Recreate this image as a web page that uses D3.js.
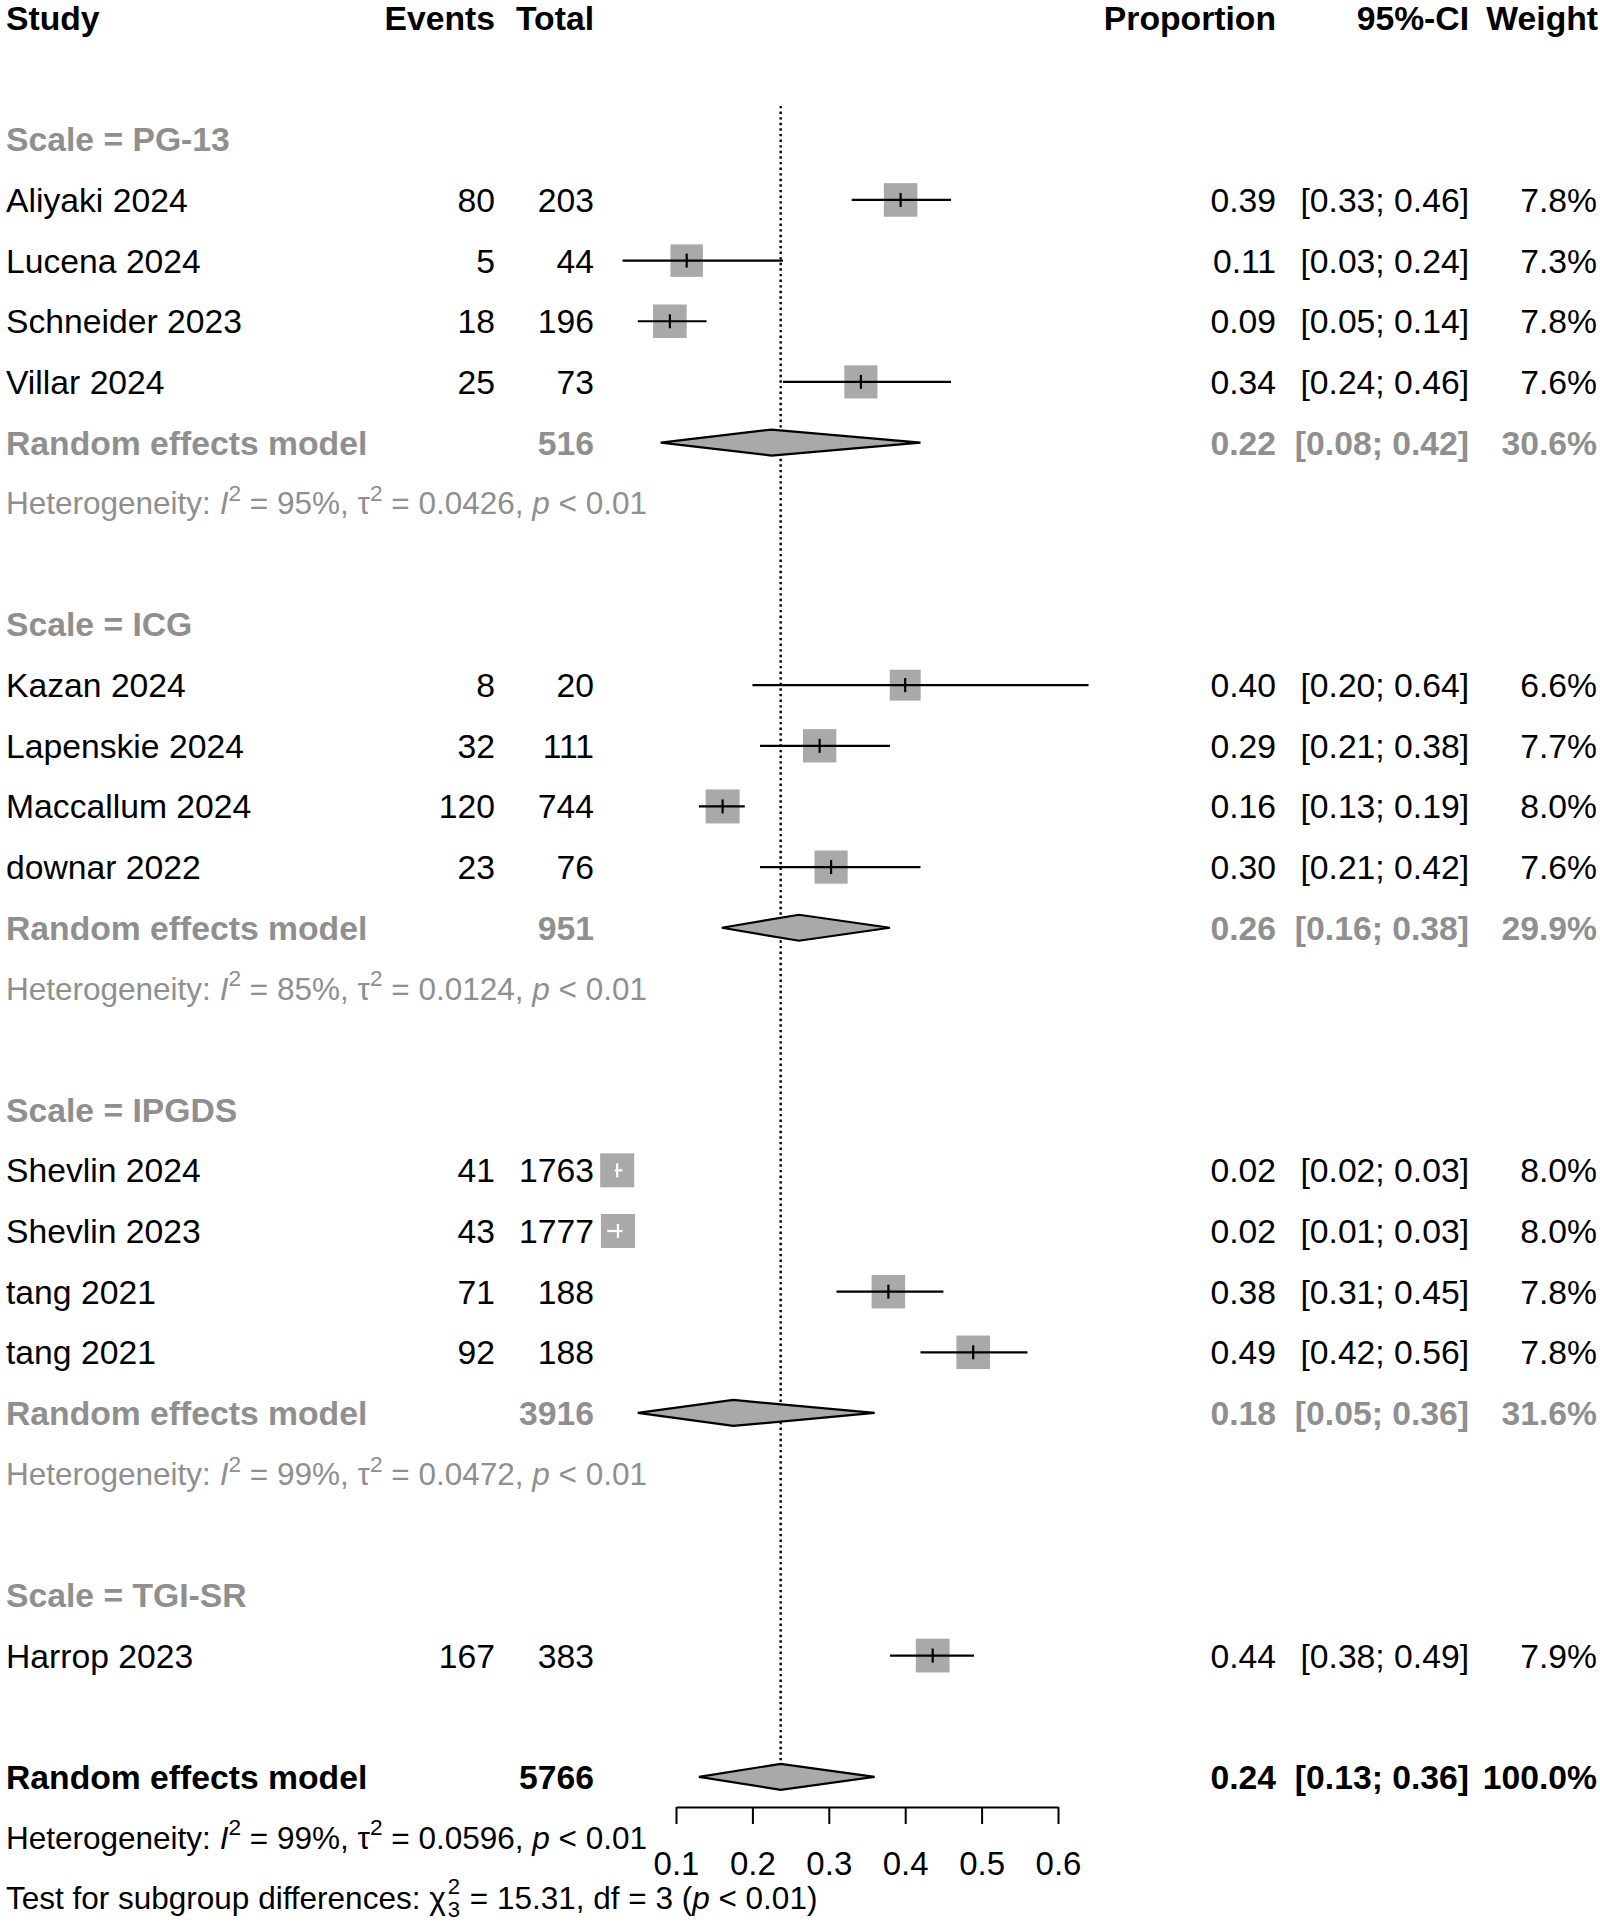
<!DOCTYPE html>
<html>
<head>
<meta charset="utf-8">
<script src="https://cdn.jsdelivr.net/npm/d3@7"></script>
<style>
  html, body { margin: 0; padding: 0; background: #ffffff; }
  svg text { font-family: "Liberation Sans", Arial, Helvetica, sans-serif; }
</style>
</head>
<body>
<svg id="chart" width="1600" height="1924"></svg>
<script>
// ---------------- DATA ----------------
const groupNames   = ["PG-13", "ICG", "IPGDS", "TGI-SR"];
const studyNames   = ["Aliyaki 2024", "Lucena 2024", "Schneider 2023", "Villar 2024",
                      "Kazan 2024", "Lapenskie 2024", "Maccallum 2024", "downar 2022",
                      "Shevlin 2024", "Shevlin 2023", "tang 2021", "tang 2021",
                      "Harrop 2023"];
const studyGroup   = ["PG-13", "PG-13", "PG-13", "PG-13",
                      "ICG", "ICG", "ICG", "ICG",
                      "IPGDS", "IPGDS", "IPGDS", "IPGDS",
                      "TGI-SR"];
const studyEvents  = [80, 5, 18, 25, 8, 32, 120, 23, 41, 43, 71, 92, 167];
const studyTotals  = [203, 44, 196, 73, 20, 111, 744, 76, 1763, 1777, 188, 188, 383];
const studyProp    = [0.394, 0.114, 0.092, 0.342, 0.400, 0.288, 0.161, 0.303, 0.023, 0.024, 0.378, 0.489, 0.436];
const studyLower   = [0.33, 0.03, 0.05, 0.24, 0.20, 0.21, 0.13, 0.21, 0.02, 0.01, 0.31, 0.42, 0.38];
const studyUpper   = [0.46, 0.24, 0.14, 0.46, 0.64, 0.38, 0.19, 0.42, 0.03, 0.03, 0.45, 0.56, 0.49];
const studyWeight  = [7.8, 7.3, 7.8, 7.6, 6.6, 7.7, 8.0, 7.6, 8.0, 8.0, 7.8, 7.8, 7.9];

// subgroup random effects (TGI-SR has a single study: no pooled row)
const groupTotals  = [516, 951, 3916];
const groupProp    = [0.225, 0.261, 0.175];
const groupPropTxt = ["0.22", "0.26", "0.18"];
const groupLower   = [0.08, 0.16, 0.05];
const groupUpper   = [0.42, 0.38, 0.36];
const groupWeight  = [30.6, 29.9, 31.6];
const groupI2      = ["95%", "85%", "99%"];
const groupTau2    = ["0.0426", "0.0124", "0.0472"];

// overall
const overallTotal  = 5766;
const overallProp   = 0.237;
const overallTxt    = "0.24";
const overallLower  = 0.13;
const overallUpper  = 0.36;
const overallWeight = 100.0;
const overallI2     = "99%";
const overallTau2   = "0.0596";
const subgroupChi2  = "15.31";
const subgroupDf    = 3;
const subgroupDfSub = "3";

const axisTicks = [0.1, 0.2, 0.3, 0.4, 0.5, 0.6];
const headers = ["Study", "Events", "Total", "Proportion", "95%-CI", "Weight"];

// ---------------- LAYOUT ----------------
const svg = d3.select("#chart");
const FS = 33.7;     // main text
const FSH = 31.5;    // heterogeneity / test lines
const FST = 33;      // axis tick labels
const GRAY = "#8f8f8f";
const rowY = d3.scaleLinear().domain([0, 31]).range([18, 18 + 31 * 60.65]);
const x = d3.scaleLinear().domain([0.1, 0.6]).range([676, 1058]);
const sqSide = d3.scaleSqrt().domain([0, 8]).range([0, 34]);

const col = { study: 6, events: 495, total: 594, prop: 1276, ci: 1469, weight: 1597 };
const f2 = d3.format(".2f");
const f1 = d3.format(".1f");
const ciTxt = (l, u) => "[" + f2(l) + "; " + f2(u) + "]";

// build row list
const rows = [];
let r = 2;
groupNames.forEach((g, gi) => {
  rows.push({ type: "group", row: r++, label: "Scale = " + g });
  studyNames.forEach((s, i) => {
    if (studyGroup[i] === g) rows.push({ type: "study", row: r++, i });
  });
  if (gi < groupTotals.length) {
    rows.push({ type: "sub", row: r++, gi });
    rows.push({ type: "het", row: r++, gi });
  }
  r++;
});
const overallRow = r;      // 29
const hetRow = r + 1;      // 30
const testRow = r + 2;     // 31

function txt(xp, row, s, opts = {}) {
  return svg.append("text")
    .attr("x", xp)
    .attr("y", rowY(row))
    .attr("dy", "0.355em")
    .attr("font-size", opts.size || FS)
    .attr("font-weight", opts.bold ? "bold" : "normal")
    .attr("fill", opts.color || "#000")
    .attr("text-anchor", opts.anchor || "start")
    .text(s);
}

// header
txt(col.study, 0, headers[0], { bold: true });
txt(col.events, 0, headers[1], { bold: true, anchor: "end" });
txt(col.total, 0, headers[2], { bold: true, anchor: "end" });
txt(col.prop, 0, headers[3], { bold: true, anchor: "end" });
txt(col.ci, 0, headers[4], { bold: true, anchor: "end" });
txt(col.weight + 1, 0, headers[5], { bold: true, anchor: "end" });

// reference (dotted) line
svg.append("line")
  .attr("x1", x(overallProp)).attr("x2", x(overallProp))
  .attr("y1", rowY(1.45)).attr("y2", rowY(overallRow) - 13)
  .attr("stroke", "#000").attr("stroke-width", 2.4)
  .attr("stroke-dasharray", "2.4,3.2");

function heterogeneity(row, i2, tau2, color) {
  const t = svg.append("text")
    .attr("x", col.study).attr("y", rowY(row)).attr("dy", "0.355em")
    .attr("font-size", FSH).attr("fill", color);
  t.append("tspan").text("Heterogeneity: ");
  t.append("tspan").attr("font-style", "italic").text("I");
  t.append("tspan").attr("font-size", FSH * 0.72).attr("dy", -FSH * 0.42).text("2");
  t.append("tspan").attr("dy", FSH * 0.42).text(" = " + i2 + ", ");
  t.append("tspan").text("τ");
  t.append("tspan").attr("font-size", FSH * 0.72).attr("dy", -FSH * 0.42).text("2");
  t.append("tspan").attr("dy", FSH * 0.42).text(" = " + tau2 + ", ");
  t.append("tspan").attr("font-style", "italic").text("p");
  t.append("tspan").text(" < 0.01");
}

function diamond(row, est, lo, hi) {
  const y = rowY(row), h = 13;
  const pts = [[x(lo), y], [x(est), y - h], [x(hi), y], [x(est), y + h]];
  svg.append("path")
    .attr("d", d3.line()(pts) + "Z")
    .attr("fill", "#a9a9a9")
    .attr("stroke", "#000").attr("stroke-width", 2.2)
    .attr("stroke-linejoin", "miter");
}

rows.forEach(d => {
  if (d.type === "group") {
    txt(col.study, d.row, d.label, { bold: true, color: GRAY });
  } else if (d.type === "study") {
    const i = d.i, y = rowY(d.row);
    txt(col.study, d.row, studyNames[i]);
    txt(col.events, d.row, studyEvents[i], { anchor: "end" });
    txt(col.total, d.row, studyTotals[i], { anchor: "end" });
    txt(col.prop, d.row, f2(studyProp[i]), { anchor: "end" });
    txt(col.ci, d.row, ciTxt(studyLower[i], studyUpper[i]), { anchor: "end" });
    txt(col.weight, d.row, f1(studyWeight[i]) + "%", { anchor: "end" });
    const s = sqSide(studyWeight[i]);
    const cx = x(studyProp[i]);
    svg.append("rect")
      .attr("x", cx - s / 2).attr("y", y - s / 2)
      .attr("width", s).attr("height", s)
      .attr("fill", "#a9a9a9");
    const inside = (x(studyLower[i]) >= cx - s / 2) && (x(studyUpper[i]) <= cx + s / 2);
    const lc = inside ? "#fff" : "#000";
    svg.append("line")
      .attr("x1", x(studyLower[i])).attr("x2", x(studyUpper[i]))
      .attr("y1", y).attr("y2", y)
      .attr("stroke", lc).attr("stroke-width", 2.2);
    svg.append("line")
      .attr("x1", cx).attr("x2", cx)
      .attr("y1", y - 7).attr("y2", y + 7)
      .attr("stroke", lc).attr("stroke-width", 2.2);
  } else if (d.type === "sub") {
    const gi = d.gi;
    txt(col.study, d.row, "Random effects model", { bold: true, color: GRAY });
    txt(col.total, d.row, groupTotals[gi], { bold: true, color: GRAY, anchor: "end" });
    txt(col.prop, d.row, groupPropTxt[gi], { bold: true, color: GRAY, anchor: "end" });
    txt(col.ci, d.row, ciTxt(groupLower[gi], groupUpper[gi]), { bold: true, color: GRAY, anchor: "end" });
    txt(col.weight, d.row, f1(groupWeight[gi]) + "%", { bold: true, color: GRAY, anchor: "end" });
    diamond(d.row, groupProp[gi], groupLower[gi], groupUpper[gi]);
  } else if (d.type === "het") {
    heterogeneity(d.row, groupI2[d.gi], groupTau2[d.gi], GRAY);
  }
});

// overall
txt(col.study, overallRow, "Random effects model", { bold: true });
txt(col.total, overallRow, overallTotal, { bold: true, anchor: "end" });
txt(col.prop, overallRow, overallTxt, { bold: true, anchor: "end" });
txt(col.ci, overallRow, ciTxt(overallLower, overallUpper), { bold: true, anchor: "end" });
txt(col.weight, overallRow, f1(overallWeight) + "%", { bold: true, anchor: "end" });
diamond(overallRow, overallProp, overallLower, overallUpper);
heterogeneity(hetRow, overallI2, overallTau2, "#000");

// test for subgroup differences
{
  const y = rowY(testRow);
  const t1 = svg.append("text").attr("x", col.study).attr("y", y).attr("dy", "0.355em")
    .attr("font-size", FSH).text("Test for subgroup differences: χ");
  const w1 = t1.node().getComputedTextLength();
  const xs = col.study + w1 + 2;
  svg.append("text").attr("x", xs).attr("y", y).attr("dy", -FSH * 0.12)
    .attr("font-size", FSH * 0.7).text("2");
  svg.append("text").attr("x", xs).attr("y", y).attr("dy", FSH * 0.6)
    .attr("font-size", FSH * 0.7).text(subgroupDfSub);
  const t2 = svg.append("text").attr("x", xs + FSH * 0.42 + FSH * 0.28).attr("y", y).attr("dy", "0.355em")
    .attr("font-size", FSH);
  t2.append("tspan").text("= " + subgroupChi2 + ", df = " + subgroupDf + " (");
  t2.append("tspan").attr("font-style", "italic").text("p");
  t2.append("tspan").text(" < 0.01)");
}

// axis
const axisY = 1807;
const axis = d3.axisBottom(x)
  .tickValues(axisTicks)
  .tickFormat(d3.format(".1f"))
  .tickSize(17)
  .tickSizeOuter(0)
  .tickPadding(28);
const ag = svg.append("g").attr("transform", `translate(0,${axisY})`).call(axis);
ag.select(".domain").attr("stroke", "#000").attr("stroke-width", 2);
ag.selectAll(".tick line").attr("stroke", "#000").attr("stroke-width", 2);
ag.selectAll(".tick text")
  .attr("font-size", FST)
  .attr("font-family", "'Liberation Sans', Arial, Helvetica, sans-serif")
  .attr("fill", "#000");
</script>
</body>
</html>
